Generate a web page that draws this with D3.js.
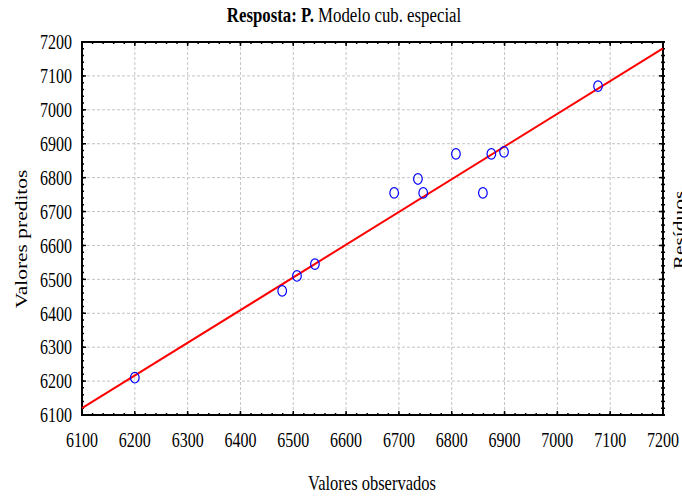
<!DOCTYPE html>
<html>
<head>
<meta charset="utf-8">
<script src="https://cdn.jsdelivr.net/npm/d3@7"></script>
<style>
  body { margin: 0; background: #fff; }
  text { font-family: "Liberation Serif", "Times New Roman", serif; fill: #000; }
</style>
</head>
<body>
<div id="chart"></div>
<script>
// Observed vs predicted values
var observed  = [6200, 6479, 6507, 6541, 6691, 6736, 6746, 6808, 6859, 6875, 6899, 7077];
var predicted = [6210, 6466, 6510, 6545, 6755, 6796, 6755, 6870, 6755, 6870, 6876, 7070];

// Fitted line end points
var fitX = [6100, 7200];
var fitY = [6120, 7181];

// Tick values
var xTicks = [6100, 6200, 6300, 6400, 6500, 6600, 6700, 6800, 6900, 7000, 7100, 7200];
var yTicks = [6100, 6200, 6300, 6400, 6500, 6600, 6700, 6800, 6900, 7000, 7100, 7200];

var margin = {top: 42, right: 19, bottom: 82, left: 82},
    width = 682 - margin.left - margin.right,
    height = 497 - margin.top - margin.bottom;

// text in the original is a bit taller than wide
var stretch = 1.3;

var root = d3.select("#chart")
  .append("svg")
    .attr("width", 682)
    .attr("height", 497);

var svg = root.append("g")
    .attr("transform", `translate(${margin.left},${margin.top})`);

var x = d3.scaleLinear().domain([6100, 7200]).range([0, width]);
var y = d3.scaleLinear().domain([6100, 7200]).range([height, 0]);

// Title
var title = root.append("text")
  .attr("transform", `translate(344,22) scale(1,${stretch})`)
  .attr("text-anchor", "middle")
  .style("font-size", "16.8px");
title.append("tspan").style("font-weight", "bold").text("Resposta: P.");
title.append("tspan").text(" Modelo cub. especial");

// Grid lines
svg.append("g")
  .selectAll("line")
  .data(xTicks.slice(1, -1))
  .join("line")
    .attr("x1", d => x(d)).attr("x2", d => x(d))
    .attr("y1", 0).attr("y2", height)
    .attr("stroke", "#c4c4c4")
    .attr("stroke-dasharray", "3,2");

svg.append("g")
  .selectAll("line")
  .data(yTicks.slice(1, -1))
  .join("line")
    .attr("y1", d => y(d)).attr("y2", d => y(d))
    .attr("x1", 0).attr("x2", width)
    .attr("stroke", "#c4c4c4")
    .attr("stroke-dasharray", "3,2");

// Minor ticks every 20 units
var minor = d3.range(6100, 7201, 20);

function drawTicks(values, len) {
  // bottom
  svg.append("g").selectAll("line").data(values).join("line")
    .attr("x1", d => x(d)).attr("x2", d => x(d))
    .attr("y1", height).attr("y2", height - len)
    .attr("stroke", "#000").attr("stroke-width", 1.5);
  // top
  svg.append("g").selectAll("line").data(values).join("line")
    .attr("x1", d => x(d)).attr("x2", d => x(d))
    .attr("y1", 0).attr("y2", len)
    .attr("stroke", "#000").attr("stroke-width", 1.5);
  // left
  svg.append("g").selectAll("line").data(values).join("line")
    .attr("y1", d => y(d)).attr("y2", d => y(d))
    .attr("x1", 0).attr("x2", len)
    .attr("stroke", "#000").attr("stroke-width", 1.5);
  // right
  svg.append("g").selectAll("line").data(values).join("line")
    .attr("y1", d => y(d)).attr("y2", d => y(d))
    .attr("x1", width - len).attr("x2", width + 2)
    .attr("stroke", "#000").attr("stroke-width", 1.5);
}
drawTicks(minor, 2);
drawTicks(xTicks, 4);

// Frame
svg.append("rect")
  .attr("width", width)
  .attr("height", height)
  .attr("fill", "none")
  .attr("stroke", "#000")
  .attr("stroke-width", 2);

// Tick labels
svg.append("g").selectAll("text").data(xTicks).join("text")
  .attr("transform", d => `translate(${x(d)},${height + 32}) scale(1,${stretch})`)
  .attr("text-anchor", "middle")
  .style("font-size", "16px")
  .text(d => d);

svg.append("g").selectAll("text").data(yTicks).join("text")
  .attr("transform", d => `translate(-10,${y(d)}) scale(1,${stretch})`)
  .attr("dy", "0.35em")
  .attr("text-anchor", "end")
  .style("font-size", "16px")
  .text(d => d);

// Axis titles
root.append("text")
  .attr("transform", `translate(372,490) scale(1,${stretch})`)
  .attr("text-anchor", "middle")
  .style("font-size", "16.5px")
  .text("Valores observados");

root.append("text")
  .attr("transform", `translate(27,239) scale(1,${stretch}) rotate(-90)`)
  .attr("text-anchor", "middle")
  .style("font-size", "16.5px")
  .text("Valores preditos");

root.append("text")
  .attr("transform", `translate(685,230) scale(1,${stretch}) rotate(-90)`)
  .attr("text-anchor", "middle")
  .style("font-size", "16.5px")
  .text("Resíduos");

// Fitted line
svg.append("path")
  .datum(fitX.map((d, i) => [d, fitY[i]]))
  .attr("fill", "none")
  .attr("stroke", "#ff0000")
  .attr("stroke-width", 2)
  .attr("d", d3.line().x(d => x(d[0])).y(d => y(d[1])));

// Points
svg.append("g")
  .selectAll("ellipse")
  .data(observed.map((d, i) => ({obs: d, pred: predicted[i]})))
  .join("ellipse")
    .attr("cx", d => x(d.obs))
    .attr("cy", d => y(d.pred))
    .attr("rx", 4.3)
    .attr("ry", 5.3)
    .attr("fill", "none")
    .attr("stroke", "#0000ff")
    .attr("stroke-width", 1.2);
</script>
</body>
</html>
